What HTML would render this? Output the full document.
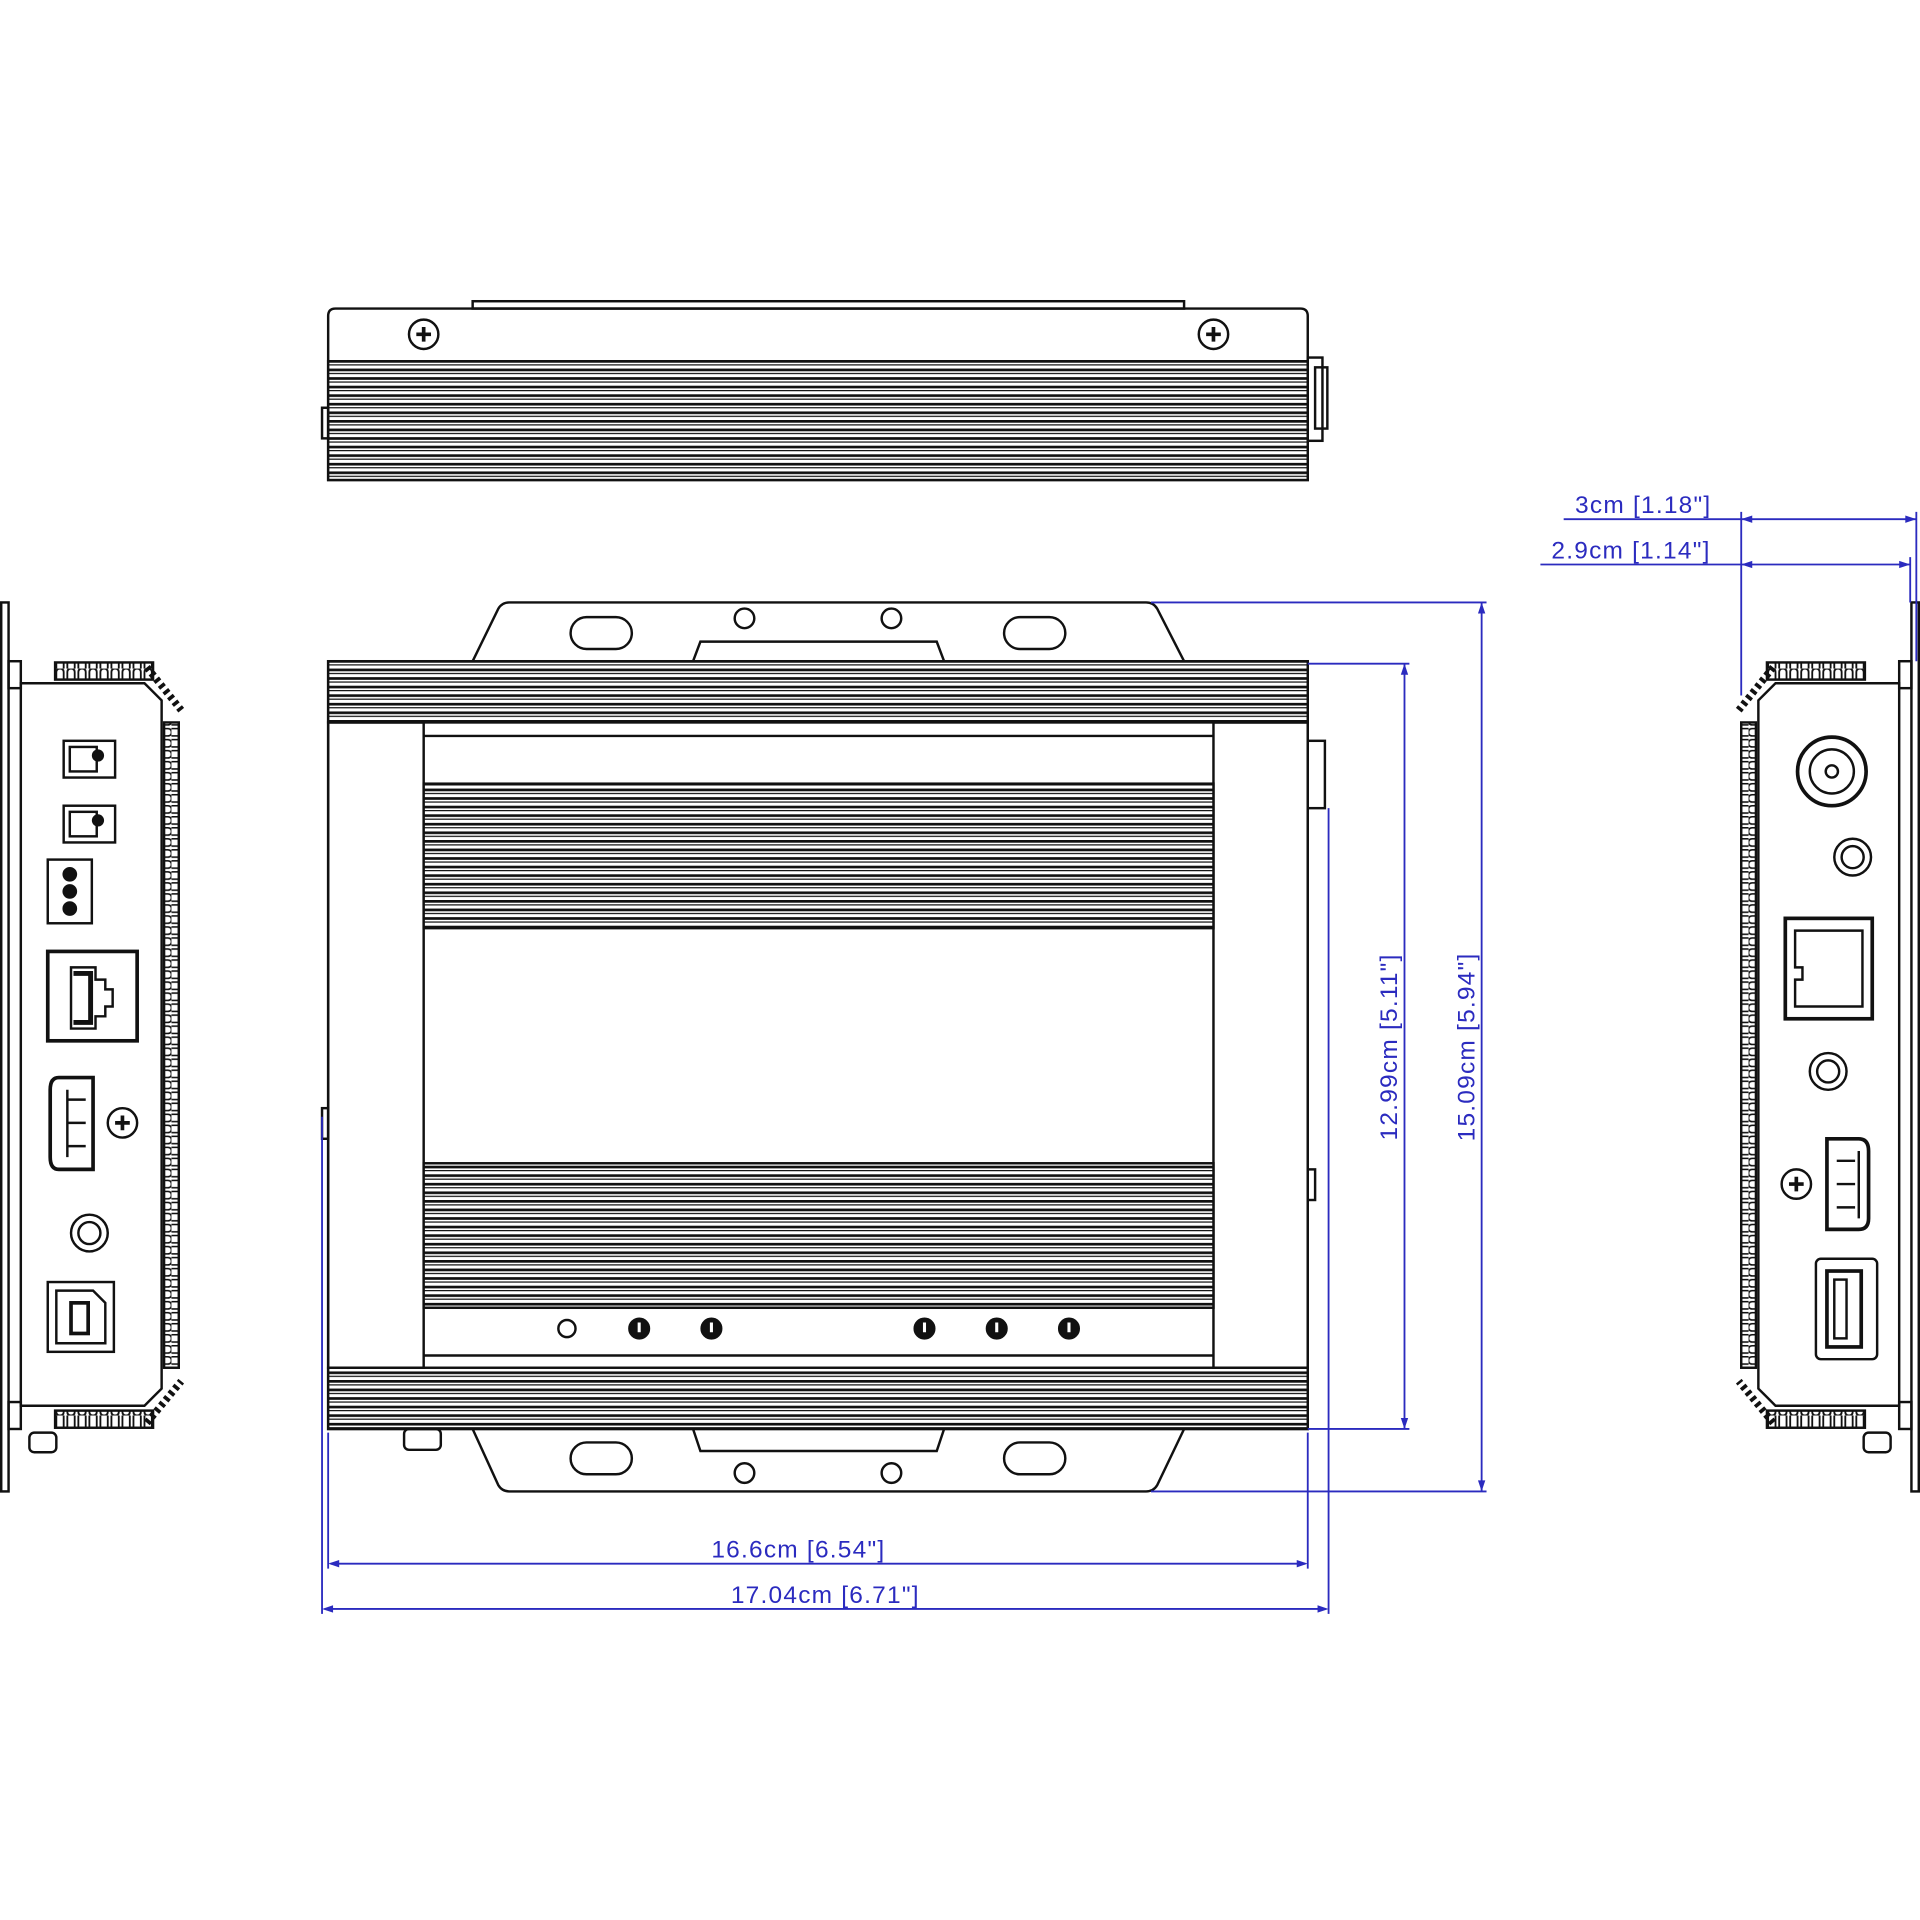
<!DOCTYPE html>
<html><head><meta charset="utf-8"><style>html,body{margin:0;padding:0;background:#fff}svg{display:block}</style></head>
<body>
<svg width="1920" height="1920" viewBox="0 0 1568 1568" xmlns="http://www.w3.org/2000/svg">
<defs>
<pattern id="fin" width="10" height="7" patternUnits="userSpaceOnUse">
<rect width="10" height="7" fill="#fff"/><rect y="0" width="10" height="2.2" fill="#111"/><rect y="3.5" width="10" height="1" fill="#111"/>
</pattern>
<pattern id="bump" width="9" height="14" patternUnits="userSpaceOnUse">
<path d="M1 14 V3 Q1 0 4 0 Q7 0 7 3 V14" fill="none" stroke="#111" stroke-width="1.5"/>
</pattern>
<pattern id="vbump" width="14" height="9" patternUnits="userSpaceOnUse">
<path d="M0 1 H11 Q14 1 14 4 Q14 7 11 7 H0" fill="none" stroke="#111" stroke-width="1.3"/>
</pattern>
</defs>
<g fill="none" stroke="#111" stroke-width="2">
<!-- TOP VIEW -->
<rect x="386" y="246" width="581" height="6"/>
<path d="M268 392 V258 Q268 252 274 252 H1062 Q1068 252 1068 258 V392 Z"/>
<rect x="268" y="295" width="800" height="97" fill="url(#fin)"/>
<rect x="1068" y="292" width="12" height="68"/><rect x="1074" y="300" width="10" height="50"/>
<rect x="263" y="333" width="5" height="25"/>
<circle cx="346" cy="273" r="12"/><path d="M340 273h12M346 267v12" stroke-width="3"/>
<circle cx="991" cy="273" r="12"/><path d="M985 273h12M991 267v12" stroke-width="3"/>

<!-- MAIN VIEW -->
<path d="M386 540 L407 497 Q410 492 416 492 H936 Q942 492 945 497 L967 540"/>
<path d="M566 540 L572 524 H765 L771 540"/>
<rect x="466" y="504" width="50" height="26" rx="13"/><rect x="820" y="504" width="50" height="26" rx="13"/>
<circle cx="608" cy="505" r="8"/><circle cx="728" cy="505" r="8"/>
<path d="M386 1167 L407 1213 Q410 1218 416 1218 H936 Q942 1218 945 1213 L967 1167"/>
<path d="M566 1167 L572 1185 H765 L771 1167"/>
<rect x="466" y="1178" width="50" height="26" rx="13"/><rect x="820" y="1178" width="50" height="26" rx="13"/>
<circle cx="608" cy="1203" r="8"/><circle cx="728" cy="1203" r="8"/>
<rect x="330" y="1167" width="30" height="17" rx="4"/>
<rect x="268" y="540" width="800" height="627"/>
<rect x="268" y="540" width="800" height="50" fill="url(#fin)"/>
<rect x="268" y="1117" width="800" height="50" fill="url(#fin)"/>
<rect x="268" y="590" width="78" height="527"/><rect x="991" y="590" width="77" height="527"/>
<line x1="346" y1="601" x2="991" y2="601"/><line x1="346" y1="1107" x2="991" y2="1107"/>
<rect x="346" y="640" width="645" height="118" fill="url(#fin)"/>
<rect x="346" y="950" width="645" height="118" fill="url(#fin)"/>
<rect x="1068" y="605" width="14" height="55"/><rect x="263" y="905" width="5" height="25"/>
<rect x="1068" y="955" width="6" height="25"/>
<circle cx="463" cy="1085" r="7"/>
<g fill="#111"><circle cx="522" cy="1085" r="8"/><circle cx="581" cy="1085" r="8"/><circle cx="755" cy="1085" r="8"/><circle cx="814" cy="1085" r="8"/><circle cx="873" cy="1085" r="8"/></g>
<g stroke="#fff" stroke-width="2.5"><path d="M522 1080v8M581 1080v8M755 1080v8M814 1080v8M873 1080v8"/></g>

<!-- LEFT SIDE VIEW -->
<rect x="1" y="492" width="6" height="726"/>
<rect x="7" y="540" width="10" height="22"/><rect x="7" y="1145" width="10" height="22"/>
<path d="M17 558 H118 L132 572 V1134 L118 1148 H17 Z"/>
<rect x="45" y="541" width="80" height="14" fill="url(#bump)"/>
<rect x="45" y="1152" width="80" height="14" fill="url(#bump)" transform="translate(0 2318) scale(1 -1)"/>
<path d="M120 545 L148 580 M120 1162 L148 1128" stroke-width="6" stroke-dasharray="3 3"/>
<rect x="134" y="590" width="12" height="527" fill="url(#vbump)"/>
<rect x="24" y="1170" width="22" height="16" rx="4"/>
<rect x="52" y="605" width="42" height="30"/><rect x="57" y="610" width="22" height="20"/><circle cx="80" cy="617" r="4" fill="#111"/>
<rect x="52" y="658" width="42" height="30"/><rect x="57" y="663" width="22" height="20"/><circle cx="80" cy="670" r="4" fill="#111"/>
<rect x="39" y="702" width="36" height="52"/><g fill="#111"><circle cx="57" cy="714" r="5"/><circle cx="57" cy="728" r="5"/><circle cx="57" cy="742" r="5"/></g>
<rect x="39" y="777" width="73" height="73" stroke-width="3"/><path d="M58 790 H78 V800 H86 V808 H92 V822 H86 V830 H78 V840 H58 Z"/><path d="M60 795 H74 V835 H60" stroke-width="4"/>
<path d="M48 880 H76 V955 H48 Q41 955 41 945 V890 Q41 880 48 880 Z" stroke-width="3"/><path d="M55 890 V945 M55 898 H70 M55 917 H70 M55 936 H70"/>
<circle cx="100" cy="917" r="12"/><path d="M94 917h12M100 911v12" stroke-width="3"/>
<circle cx="73" cy="1007" r="15"/><circle cx="73" cy="1007" r="9"/>
<rect x="39" y="1047" width="54" height="57"/><path d="M46 1054 V1097 H86 V1064 L76 1054 Z"/><rect x="58" y="1064" width="14" height="25" stroke-width="3"/>

<!-- RIGHT SIDE VIEW (mirrored) -->
<g transform="translate(1568 0) scale(-1 1)">
<rect x="1" y="492" width="6" height="726"/>
<rect x="7" y="540" width="10" height="22"/><rect x="7" y="1145" width="10" height="22"/>
<path d="M17 558 H118 L132 572 V1134 L118 1148 H17 Z"/>
<rect x="45" y="541" width="80" height="14" fill="url(#bump)"/>
<rect x="45" y="1152" width="80" height="14" fill="url(#bump)" transform="translate(0 2318) scale(1 -1)"/>
<path d="M120 545 L148 580 M120 1162 L148 1128" stroke-width="6" stroke-dasharray="3 3"/>
<rect x="134" y="590" width="12" height="527" fill="url(#vbump)"/>
<rect x="24" y="1170" width="22" height="16" rx="4"/>
</g>
<circle cx="1496" cy="630" r="28" stroke-width="3"/><circle cx="1496" cy="630" r="18"/><circle cx="1496" cy="630" r="5"/>
<circle cx="1513" cy="700" r="15"/><circle cx="1513" cy="700" r="9"/>
<rect x="1458" y="750" width="71" height="82" stroke-width="3"/><path d="M1466 760 H1521 V822 H1466 V800 H1472 V790 H1466 Z"/>
<circle cx="1493" cy="875" r="15"/><circle cx="1493" cy="875" r="9"/>
<path d="M1492 930 H1518 Q1526 930 1526 940 V995 Q1526 1004 1518 1004 H1492 Z" stroke-width="3"/><path d="M1518 940 V995 M1500 948 H1515 M1500 967 H1515 M1500 986 H1515"/>
<circle cx="1467" cy="967" r="12"/><path d="M1461 967h12M1467 961v12" stroke-width="3"/>
<rect x="1483" y="1028" width="50" height="82" rx="4"/><rect x="1492" y="1038" width="28" height="62" stroke-width="3"/><rect x="1498" y="1045" width="10" height="48"/>
</g>

<!-- DIMENSIONS -->
<g stroke="#2b2bbf" stroke-width="1.5" fill="none">
<path d="M940 492 H1214 M1068 542 H1151 M1068 1167 H1151 M940 1218 H1214"/>
<path d="M1147 542 V1167 M1210 492 V1218"/>
<path d="M268 1170 V1281 M1068 1170 V1281 M263 912 V1318 M1085 660 V1318"/>
<path d="M270 1277 H1066 M265 1314 H1083"/>
<path d="M1422 418 V568 M1565 418 V540 M1560 455 V492"/>
<path d="M1277 424 H1565 M1258 461 H1560"/>
</g>
<g fill="#2b2bbf">
<path d="M1147 542 l-3 9 h6z M1147 1167 l-3 -9 h6z M1210 492 l-3 9 h6z M1210 1218 l-3 -9 h6z"/>
<path d="M268 1277 l9 -3 v6z M1068 1277 l-9 -3 v6z M263 1314 l9 -3 v6z M1085 1314 l-9 -3 v6z"/>
<path d="M1422 424 l9 -3 v6z M1565 424 l-9 -3 v6z M1422 461 l9 -3 v6z M1560 461 l-9 -3 v6z"/>
</g>
<g fill="#2b2bbf" font-family="Liberation Sans, sans-serif" font-size="20" text-anchor="middle" letter-spacing="1">
<text x="652" y="1272">16.6cm [6.54"]</text>
<text x="674" y="1309">17.04cm [6.71"]</text>
<text x="1342" y="419">3cm [1.18"]</text>
<text x="1332" y="456">2.9cm [1.14"]</text>
<text transform="translate(1141 855) rotate(-90)">12.99cm [5.11"]</text>
<text transform="translate(1204 855) rotate(-90)">15.09cm [5.94"]</text>
</g>
</svg>
</body></html>
